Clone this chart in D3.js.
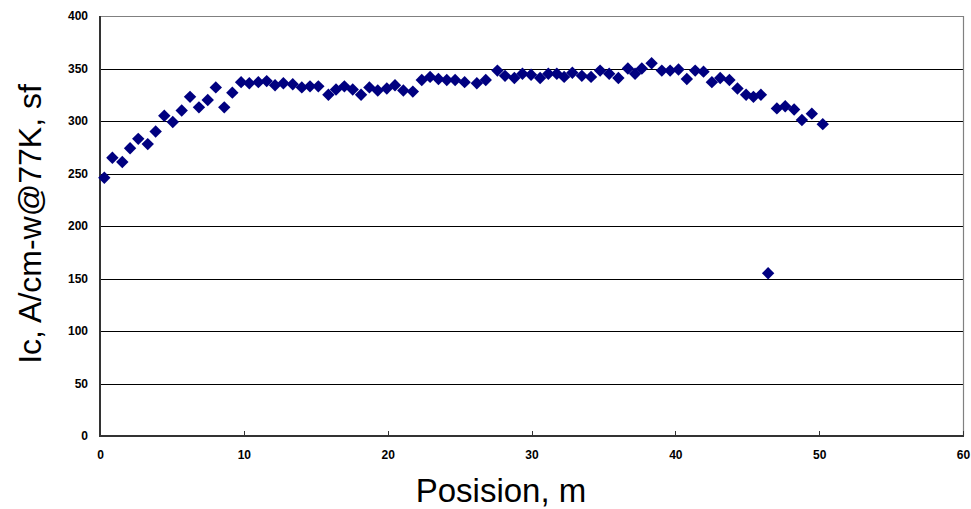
<!DOCTYPE html>
<html>
<head>
<meta charset="utf-8">
<script src="https://cdn.jsdelivr.net/npm/d3@7"></script>
<style>
  body { margin: 0; background: #fff; }
  svg { display: block; }
</style>
</head>
<body>
<svg id="chart" width="971" height="509"></svg>
<script>
// ---- data ----
const positions = [
  0.30, 0.86, 1.55, 2.09, 2.66, 3.32, 3.87, 4.47, 5.06, 5.68,
  6.26, 6.88, 7.49, 8.05, 8.64, 9.20, 9.81, 10.38, 11.01, 11.59,
  12.17, 12.75, 13.40, 14.03, 14.60, 15.18, 15.88, 16.41, 16.99, 17.57,
  18.15, 18.73, 19.31, 19.94, 20.51, 21.09, 21.75, 22.37, 22.95, 23.53,
  24.11, 24.69, 25.35, 26.20, 26.82, 27.63, 28.16, 28.81, 29.37, 29.97,
  30.60, 31.17, 31.76, 32.27, 32.84, 33.50, 34.14, 34.77, 35.40, 36.04,
  36.70, 37.20, 37.67, 38.35, 39.06, 39.64, 40.22, 40.80, 41.38, 41.96,
  42.54, 43.12, 43.76, 44.32, 44.92, 45.43, 45.95, 46.45, 47.06, 47.64,
  48.26, 48.80, 49.49, 50.25
];
const icValues = [
  246, 265, 261, 274, 283, 278, 290, 305, 299, 310,
  323, 313, 320, 332, 313, 327, 337, 336, 337, 338,
  334, 336, 335, 332, 333, 333, 325, 330, 333, 330,
  325, 332, 329, 331, 334, 329, 328, 339, 342, 340,
  339, 339, 337, 336, 339, 348, 343, 341, 345, 344,
  341, 345, 345, 342, 346, 343, 342, 348, 345, 341,
  350, 345, 350, 355, 348, 348, 349, 340, 348, 347,
  337, 341, 339, 331, 325, 323, 325, 155, 312, 314,
  311, 301, 307, 297
];
const xTicks = [0, 10, 20, 30, 40, 50, 60];
const yTicks = [0, 50, 100, 150, 200, 250, 300, 350, 400];
const xTitle = "Posision, m";
const yTitle = "Ic, A/cm-w@77K, sf";

// ---- layout ----
const svg = d3.select("#chart");
const pL = 100, pR = 963, pT = 16, pB = 436;
const x = d3.scaleLinear().domain([0, 60]).range([pL, pR]);
const y = d3.scaleLinear().domain([0, 400]).range([pB, pT]);
const font = "'Liberation Sans', Arial, sans-serif";

// gridlines
svg.append("g").selectAll("line")
  .data(yTicks.filter(d => d > 0 && d < 400))
  .join("line")
  .attr("x1", pL).attr("x2", pR)
  .attr("y1", d => Math.round(y(d)) + 0.5).attr("y2", d => Math.round(y(d)) + 0.5)
  .attr("stroke", "#000").attr("stroke-width", 1);

// top & right border (gray)
svg.append("line").attr("x1", pL).attr("x2", pR + 0.5)
  .attr("y1", pT + 0.5).attr("y2", pT + 0.5)
  .attr("stroke", "#808080").attr("stroke-width", 1.2);
svg.append("line").attr("x1", pR + 0.5).attr("x2", pR + 0.5)
  .attr("y1", pT).attr("y2", pB)
  .attr("stroke", "#808080").attr("stroke-width", 1.2);

// x axis (ticks inward)
const xAxis = d3.axisBottom(x).tickValues(xTicks).tickSize(0).tickPadding(14)
  .tickFormat(d3.format("d"));
const gx = svg.append("g").attr("transform", `translate(0,${pB})`).call(xAxis);
gx.select(".domain").remove();
gx.selectAll("text").attr("font-family", font).attr("font-size", 12)
  .attr("font-weight", "bold").attr("fill", "#000");
svg.append("g").selectAll("line").data(xTicks.filter(d => d > 0))
  .join("line")
  .attr("x1", d => Math.round(x(d)) + 0.5).attr("x2", d => Math.round(x(d)) + 0.5)
  .attr("y1", pB).attr("y2", pB - 5)
  .attr("stroke", "#333").attr("stroke-width", 1);

// y axis
const yAxis = d3.axisLeft(y).tickValues(yTicks).tickSize(0).tickPadding(12)
  .tickFormat(d3.format("d"));
const gy = svg.append("g").attr("transform", `translate(${pL},0)`).call(yAxis);
gy.select(".domain").remove();
gy.selectAll("text").attr("font-family", font).attr("font-size", 12)
  .attr("font-weight", "bold").attr("fill", "#000");

// axis lines
svg.append("line").attr("x1", pL).attr("x2", pL)
  .attr("y1", pT).attr("y2", pB + 1)
  .attr("stroke", "#333").attr("stroke-width", 2);
svg.append("line").attr("x1", pL - 1).attr("x2", pR + 1)
  .attr("y1", pB).attr("y2", pB)
  .attr("stroke", "#333").attr("stroke-width", 2);

// markers
const s = 6.2;
const diamond = `M0,${-s}L${s},0L0,${s}L${-s},0Z`;
svg.append("g").selectAll("path")
  .data(positions.map((p, i) => ({ p, v: icValues[i] })))
  .join("path")
  .attr("d", diamond)
  .attr("transform", d => `translate(${x(d.p)},${y(d.v)})`)
  .attr("fill", "#000080");

// titles
svg.append("text")
  .attr("x", 501).attr("y", 502)
  .attr("text-anchor", "middle")
  .attr("font-family", font).attr("font-size", 33).attr("fill", "#000")
  .text(xTitle);
svg.append("text")
  .attr("transform", `translate(41,224) rotate(-90)`)
  .attr("text-anchor", "middle")
  .attr("font-family", font).attr("font-size", 32).attr("fill", "#000")
  .text(yTitle);
</script>
</body>
</html>
